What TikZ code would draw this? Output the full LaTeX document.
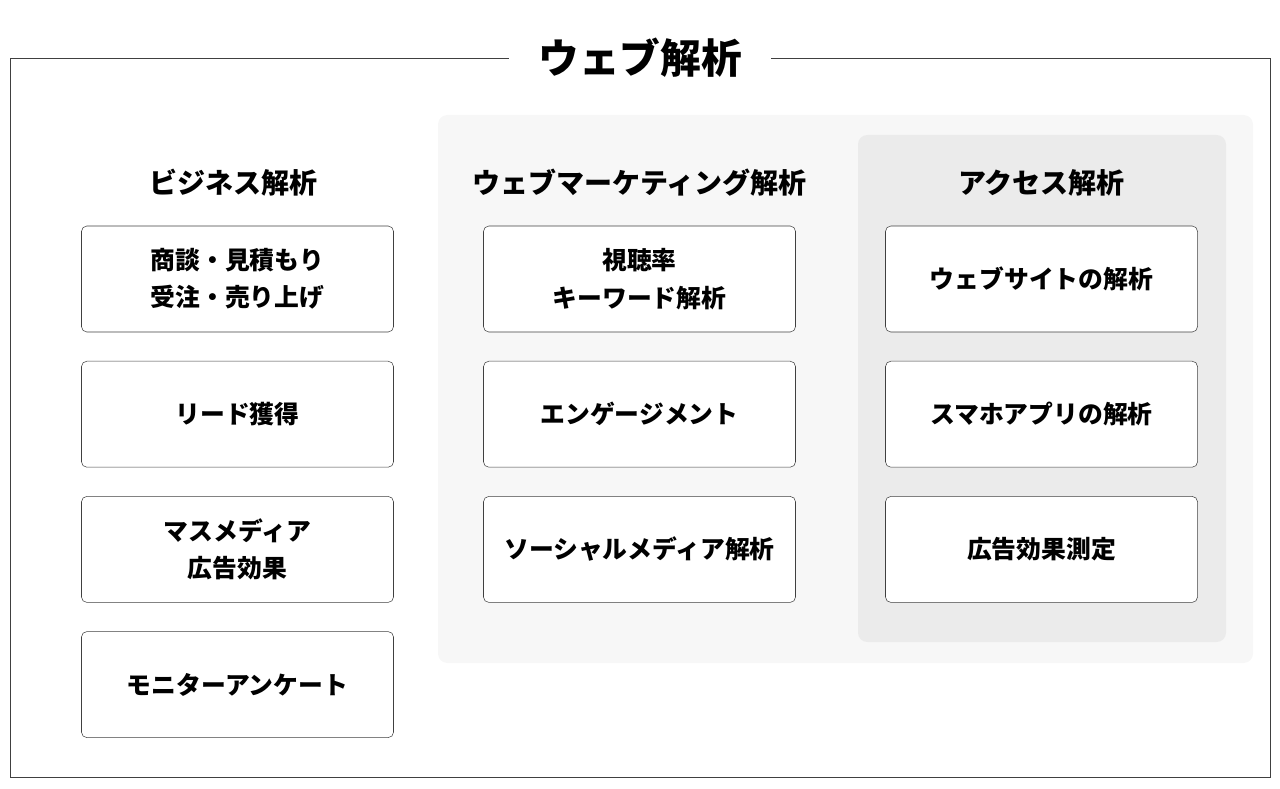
\documentclass[tikz,border=0pt]{standalone}
\usepackage{fontspec}
\setmainfont{Noto Sans CJK JP}
\usetikzlibrary{positioning}

\begin{document}
\begin{tikzpicture}[x=0.75pt, y=-0.75pt,
  item/.style={draw=black!75, rounded corners=4pt, fill=white, minimum width=234pt, minimum height=79.5pt, inner sep=0pt, align=center, font=\fontsize{18.6}{28}\selectfont\bfseries},
  head/.style={font=\fontsize{21}{25}\selectfont\bfseries}]
\useasboundingbox (0,0) rectangle (1280,788);
\draw[black!75] (10,58) rectangle (1270,777);
\node[fill=white, inner xsep=22pt, font=\fontsize{30.5}{36}\selectfont\bfseries] (title) at (640,58) {ウェブ解析};
\fill[black!3, rounded corners=7pt] (438,115) rectangle (1253,663);
\fill[black!8, rounded corners=7pt] (858,135) rectangle (1226,642);
% ビジネス解析
\node[head] (bizhead) at (233,183) {ビジネス解析};
\node[item] (biz1) at (237.5,279) {商談・見積もり\\受注・売り上げ};
\node[item, below=21.5pt of biz1] (biz2) {リード獲得};
\node[item, below=21.5pt of biz2] (biz3) {マスメディア\\広告効果};
\node[item, below=21.5pt of biz3] (biz4) {モニターアンケート};
% ウェブマーケティング解析
\node[head] (mkthead) at (639.5,183) {ウェブマーケティング解析};
\node[item] (mkt1) at (639.5,279) {視聴率\\キーワード解析};
\node[item, below=21.5pt of mkt1] (mkt2) {エンゲージメント};
\node[item, below=21.5pt of mkt2] (mkt3) {ソーシャルメディア解析};
% アクセス解析
\node[head] (acchead) at (1041.5,183) {アクセス解析};
\node[item] (acc1) at (1041.5,279) {ウェブサイトの解析};
\node[item, below=21.5pt of acc1] (acc2) {スマホアプリの解析};
\node[item, below=21.5pt of acc2] (acc3) {広告効果測定};
\end{tikzpicture}
\end{document}
